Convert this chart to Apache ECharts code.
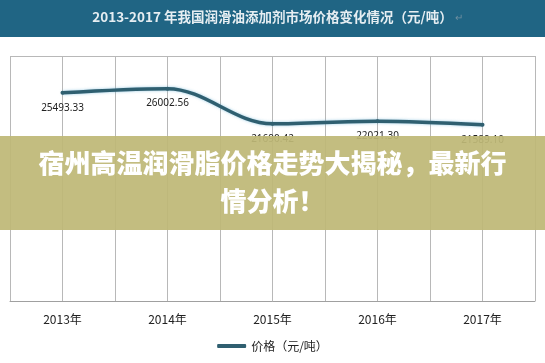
<!DOCTYPE html>
<html><head><meta charset="utf-8">
<script src="https://cdn.jsdelivr.net/npm/echarts@6/dist/echarts.min.js"></script>
<style>html,body{margin:0;padding:0;background:#fff}#c{width:545px;height:363px}</style>
</head><body><div id="c"></div>
<script>
const categories = ['2013年','2014年','2015年','2016年','2017年'];
const prices = [25493.33, 26002.56, 21690.42, 22021.30, 21589.10];
const seriesName = '价格（元/吨）';
const headerTitle = '2013-2017 年我国润滑油添加剂市场价格变化情况（元/吨）';
const bannerLines = ['宿州高温润滑脂价格走势大揭秘，最新行', '情分析！'];

const chart = echarts.init(document.getElementById('c'), null, {renderer:'canvas'});
const font = '"Noto Sans CJK SC","Noto Sans",sans-serif';
chart.setOption({
  backgroundColor:'#fff',
  animation:false,
  grid:{left:10,right:10,top:56,bottom:62},
  xAxis:{type:'value',min:-0.5,max:4.5,interval:0.5,
    axisLine:{show:true,lineStyle:{color:'#a0a0a0',width:1}},
    axisTick:{show:false},
    splitLine:{show:true,lineStyle:{color:'#b8b8b8',width:1}},
    axisLabel:{color:'#222',fontSize:12,fontFamily:font,margin:12,showMinLabel:false,showMaxLabel:false,
      formatter:v=>Number.isInteger(v)&&categories[v]?categories[v]:''}},
  yAxis:{type:'value',min:0,max:30000,interval:30000,
    axisLine:{show:false},axisTick:{show:false},axisLabel:{show:false},
    splitLine:{show:true,lineStyle:{color:'#b8b8b8',width:1}}},
  legend:{bottom:6,left:'center',icon:'roundRect',itemWidth:29,itemHeight:4,itemGap:4,
    textStyle:{color:'#222',fontSize:12,fontFamily:font},
    data:[seriesName]},
  series:[{name:seriesName,type:'line',smooth:0.35,
    data:prices.map((v,i)=>[i,v]),
    symbol:'circle',symbolSize:4,showSymbol:true,
    itemStyle:{color:'#2f5f70'},
    lineStyle:{color:'#2f5f70',width:3.5,shadowColor:'rgba(90,170,210,0.6)',shadowBlur:3},
    label:{show:true,position:'bottom',distance:8,fontSize:10,color:'#222',fontFamily:'"Noto Sans",sans-serif',
      formatter:p=>p.value[1].toFixed(2)}}],
  graphic:[
    {type:'rect',left:0,top:0,shape:{width:545,height:37},style:{fill:'#206584'},z:100},
    {type:'text',left:'center',top:10,style:{text:headerTitle,fill:'#e6eef2',font:'bold 13.5px '+font},z:101},
    {type:'text',left:455,top:12,style:{text:'↵',fill:'#6f8fa0',font:'10px '+font},z:101},
    {type:'rect',left:0,top:136,shape:{width:545,height:94},style:{fill:'rgba(190,184,118,0.93)'},z:100},
    {type:'text',left:'center',top:150,style:{text:bannerLines[0],fill:'#fff',font:'900 26px '+font},z:101},
    {type:'text',left:'center',top:188,style:{text:bannerLines[1],fill:'#fff',font:'900 26px '+font},z:101}
  ]
});
</script></body></html>
